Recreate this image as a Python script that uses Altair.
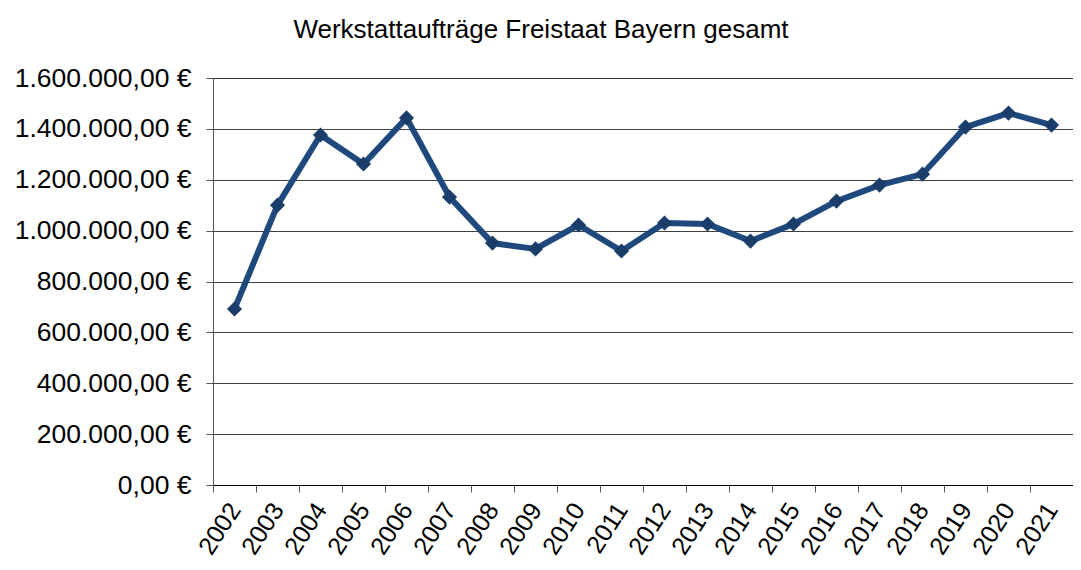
import altair as alt
import pandas as pd

years = [str(y) for y in range(2002, 2022)]
values = [692000, 1100000, 1376000, 1262000, 1443000, 1132000, 951000, 928000,
          1022000, 920000, 1030000, 1026000, 959000, 1026000, 1116000, 1179000,
          1222000, 1407000, 1462000, 1415000]

df = pd.DataFrame({"Jahr": years, "Betrag": values})

x = alt.X("Jahr:N", sort=years, title=None,
          scale=alt.Scale(type="band", paddingInner=0, paddingOuter=0),
          axis=alt.Axis(tickBand="extent", labelAngle=303, labelAlign="right",
                        labelBaseline="middle", labelFontSize=25, labelPadding=13,
                        labelFont="Liberation Sans", labelColor="black",
                        tickSize=7, tickColor="#555", domainColor="black",
                        grid=False, labelOverlap=False))
y = alt.Y("Betrag:Q", title=None,
          scale=alt.Scale(domain=[0, 1600000], nice=False),
          axis=alt.Axis(values=list(range(0, 1600001, 200000)), format="$,.2f",
                        labelFontSize=26.5, labelFont="Liberation Sans", labelColor="black",
                        labelPadding=15, tickSize=7, tickColor="#555",
                        domainColor="#555", gridColor="black", gridOpacity=0.75,
                        gridWidth=1))

base = alt.Chart(df)
line = base.mark_line(color="#1F497D", strokeWidth=6).encode(x=x, y=y)
pts = base.mark_point(shape="diamond", filled=True, size=230, color="#1A3E69",
                      opacity=1).encode(x=x, y=y)

chart = (line + pts).properties(
    width=860, height=407,
    autosize=alt.AutoSizeParams(type="none"),
    padding={"left": 205, "top": 70, "right": 0, "bottom": 84},
    title=alt.TitleParams("Werkstattaufträge Freistaat Bayern gesamt",
                          fontSize=26, fontWeight="normal", font="Liberation Sans",
                          color="black", anchor="middle", dx=-102, offset=22),
).configure_view(stroke=None).configure(
    locale={"number": {"decimal": ",", "thousands": ".", "grouping": [3],
                       "currency": ["", " €"]}}
)

chart.save("out.html", embed_options={"renderer": "svg", "actions": False})
